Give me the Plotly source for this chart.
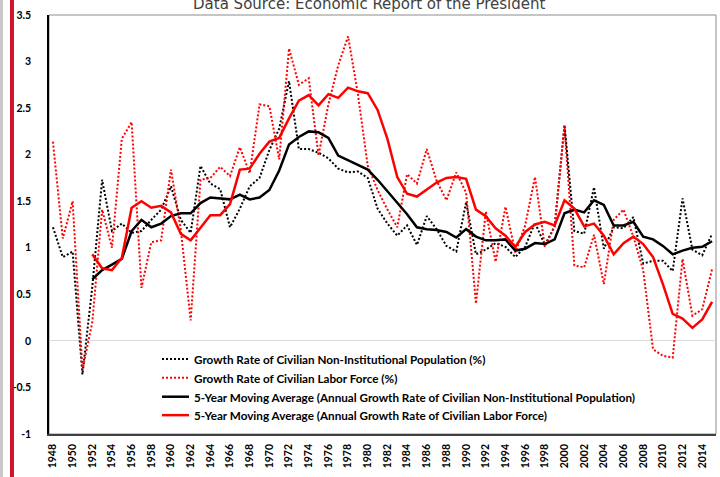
import plotly.graph_objects as go

# Years on the category axis
years = [str(y) for y in range(1948, 2016)]
tick_years = years[::2]

# Annual growth rate of civilian non-institutional population (%)
pop_growth = [
    1.22, 0.90, 0.96, -0.36, 0.58, 1.73, 1.18, 1.26, 1.16, 1.18,
    1.30, 1.41, 1.66, 1.30, 1.16, 1.88, 1.69, 1.63, 1.22, 1.42,
    1.66, 1.75, 2.05, 2.28, 2.79, 2.06, 2.06, 2.02, 1.96, 1.85,
    1.81, 1.82, 1.75, 1.42, 1.26, 1.13, 1.24, 1.03, 1.34, 1.20,
    1.02, 0.96, 1.49, 0.93, 0.98, 1.05, 1.01, 0.90, 1.01, 1.27,
    1.03, 1.23, 2.32, 1.18, 1.15, 1.65, 0.99, 1.22, 1.21, 1.33,
    0.83, 0.86, 0.86, 0.75, 1.53, 0.98, 0.92, 1.15,
]

# Annual growth rate of civilian labor force (%)
lf_growth = [
    2.14, 1.10, 1.50, -0.31, 0.20, 1.41, 1.00, 2.17, 2.35, 0.57,
    1.06, 1.08, 1.84, 1.19, 0.22, 1.73, 1.75, 1.87, 1.77, 2.08,
    1.80, 2.54, 2.52, 1.95, 3.14, 2.75, 2.82, 1.99, 2.54, 2.96,
    3.27, 2.65, 1.88, 1.62, 1.41, 1.22, 1.79, 1.69, 2.06, 1.72,
    1.51, 1.81, 1.59, 0.40, 1.39, 0.85, 1.44, 0.95, 1.24, 1.76,
    1.01, 1.23, 2.31, 0.81, 0.79, 1.14, 0.61, 1.30, 1.41, 1.12,
    0.76, -0.09, -0.16, -0.18, 0.88, 0.27, 0.34, 0.77,
]

# 5-year moving averages as drawn (start in 1952)
pop_ma5 = [
    None, None, None, None, 0.66, 0.76, 0.82, 0.88, 1.18, 1.30,
    1.22, 1.26, 1.34, 1.37, 1.37, 1.48, 1.54, 1.53, 1.52, 1.57,
    1.52, 1.54, 1.62, 1.83, 2.11, 2.19, 2.25, 2.24, 2.18, 1.99,
    1.94, 1.89, 1.84, 1.73, 1.61, 1.48, 1.36, 1.22, 1.20, 1.19,
    1.17, 1.11, 1.20, 1.12, 1.08, 1.08, 1.09, 0.97, 0.99, 1.05,
    1.04, 1.09, 1.37, 1.41, 1.38, 1.51, 1.46, 1.24, 1.24, 1.28,
    1.12, 1.09, 1.02, 0.93, 0.97, 1.00, 1.01, 1.07,
]

lf_ma5 = [
    None, None, None, None, 0.93, 0.78, 0.76, 0.89, 1.43, 1.50,
    1.43, 1.45, 1.38, 1.15, 1.08, 1.21, 1.35, 1.35, 1.47, 1.84,
    1.85, 2.01, 2.14, 2.18, 2.39, 2.58, 2.64, 2.53, 2.65, 2.61,
    2.72, 2.68, 2.66, 2.48, 2.17, 1.76, 1.58, 1.55, 1.63, 1.70,
    1.75, 1.76, 1.74, 1.41, 1.34, 1.21, 1.13, 1.01, 1.17, 1.25,
    1.28, 1.24, 1.51, 1.42, 1.23, 1.26, 1.13, 0.93, 1.05, 1.12,
    1.04, 0.90, 0.61, 0.29, 0.24, 0.14, 0.23, 0.42,
]

y_ticks = [-1, -0.5, 0, 0.5, 1, 1.5, 2, 2.5, 3, 3.5]
y_tick_text = ["-1", "-0.5", "0", "0.5", "1", "1.5", "2", "2.5", "3", "3.5"]

TICK_FONT = dict(family="Lato", size=10.5, color="black", weight="bold")
LEGEND_FONT = dict(family="Lato", size=11.7, color="black", weight="bold")

series = [
    ("Growth Rate of Civilian Non-Institutional Population (%)", pop_growth,
     dict(color="black", width=2, dash="2px,2px")),
    ("Growth Rate of Civilian Labor Force (%)", lf_growth,
     dict(color="#ff0000", width=2, dash="2px,2px")),
    ("5-Year Moving Average (Annual Growth Rate of Civilian Non-Institutional Population)", pop_ma5,
     dict(color="black", width=2.5)),
    ("5-Year Moving Average (Annual Growth Rate of Civilian Labor Force)", lf_ma5,
     dict(color="#ff0000", width=2.5)),
]

fig = go.Figure()
for name, vals, line in series:
    fig.add_trace(go.Scatter(x=years, y=vals, mode="lines", name=name,
                             line=line, showlegend=False))

# hand-made legend inside the plot (paper coords)
legend_rows_y = [0.179, 0.134, 0.089, 0.045]
shapes = [
    dict(type="rect", xref="paper", yref="paper", x0=0, x1=1, y0=0, y1=1,
         line=dict(color="#8c8c8c", width=1), layer="below"),
    dict(type="rect", xref="paper", yref="paper", x0=-0.0735, x1=-0.069,
         y0=-0.11, y1=1.05, fillcolor="#c8c8c8", line=dict(width=0)),
    dict(type="rect", xref="paper", yref="paper", x0=-0.0585, x1=-0.0525,
         y0=-0.11, y1=1.05, fillcolor="#d2142a", line=dict(width=0)),
]
annotations = [dict(
    text="Data Source: Economic Report of the President",
    xref="paper", yref="paper", x=0.481, y=1.0298,
    xanchor="center", yanchor="middle", showarrow=False,
    font=dict(family="DejaVu Sans Condensed, Roboto, sans-serif", size=16.7, color="#404040"),
)]
for (name, _, line), ly in zip(series, legend_rows_y):
    shapes.append(dict(type="line", xref="paper", yref="paper",
                       x0=0.1694, x1=0.2099, y0=ly, y1=ly, line=line))
    annotations.append(dict(text=name, xref="paper", yref="paper",
                            x=0.2144, y=ly, xanchor="left", yanchor="middle",
                            showarrow=False, font=LEGEND_FONT))

fig.update_layout(
    width=720, height=477,
    margin=dict(l=49, r=4, t=15, b=43),
    paper_bgcolor="white",
    plot_bgcolor="white",
    showlegend=False,
    annotations=annotations,
    shapes=shapes,
)

fig.update_xaxes(
    type="category", range=[-0.4, 67.4],
    tickvals=tick_years, ticktext=tick_years, tickangle=-90,
    ticks="", ticklabelstandoff=4, tickfont=TICK_FONT,
    showgrid=False, showline=True, linecolor="#404040", linewidth=1.5,
)
fig.update_yaxes(
    range=[-1, 3.5], tickvals=y_ticks, ticktext=y_tick_text,
    ticks="", ticklabelstandoff=14, tickfont=TICK_FONT,
    showgrid=False, zeroline=True, zerolinecolor="#d9d9d9", zerolinewidth=1,
    showline=True, linecolor="black", linewidth=1.5,
)

# page body has a default 8px margin; drop it so the figure fills the window
fig.write_html("out.html", config={"displayModeBar": False},
               post_script="document.body.style.margin='0';")
